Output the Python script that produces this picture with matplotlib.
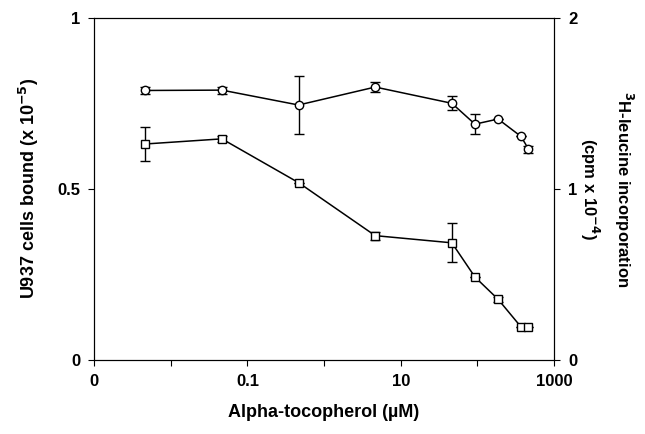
import numpy as np
import matplotlib
matplotlib.use('Agg')
from matplotlib import pyplot as plt

plt.rcParams['font.family'] = ['Liberation Sans', 'DejaVu Sans']
plt.rcParams['font.weight'] = 'bold'

# alpha-tocopherol concentrations (uM)
conc = [0.00464, 0.0464, 0.464, 4.64, 46.4, 92.9, 186, 371, 464]

# U937 cells bound (x 10^-5), left axis
bound = [0.631, 0.646, 0.518, 0.363, 0.342, 0.242, 0.177, 0.096, 0.097]
bound_err = [0.050, 0.008, 0.0, 0.012, 0.057, 0.0, 0.008, 0.0, 0.0]

# 3H-leucine incorporation (cpm x 10^-4), right axis
leucine = [1.575, 1.577, 1.49, 1.595, 1.50, 1.378, 1.408, 1.306, 1.232]
leucine_err = [0.02, 0.02, 0.17, 0.03, 0.04, 0.06, 0.0, 0.0, 0.02]

xticks = [0.001, 0.01, 0.1, 1, 10, 100, 1000]
xticklabels = ['0', '', '0.1', '', '10', '', '1000']

fig = plt.figure(figsize=(6.45, 4.34), dpi=100)
ax = fig.add_axes([0.146, 0.171, 0.713, 0.788])
ax2 = ax.twinx()

ax.errorbar(conc, bound, yerr=bound_err, color='black', lw=1.1,
            marker='s', ms=6, mfc='white', mec='black', mew=1.0,
            ecolor='black', elinewidth=1.0, capsize=3.5, capthick=1.0)
ax2.errorbar(conc, leucine, yerr=leucine_err, color='black', lw=1.1,
             marker='o', ms=6, mfc='white', mec='black', mew=1.0,
             ecolor='black', elinewidth=1.0, capsize=3.5, capthick=1.0)

ax.set_xscale('log')
ax.set_xlim(0.001, 1000)
ax.set_xticks(xticks)
ax.set_xticklabels(xticklabels)
ax.minorticks_off()
ax.set_ylim(0, 1)
ax.set_yticks([0, 0.5, 1])
ax.set_yticklabels(['0', '0.5', '1'])
ax2.set_ylim(0, 2)
ax2.set_yticks([0, 1, 2])
ax2.set_yticklabels(['0', '1', '2'])

for a in (ax, ax2):
    a.tick_params(direction='out', length=4, width=0.8, labelsize=12, pad=6)
    for s in a.spines.values():
        s.set_linewidth(0.8)

ax.set_xlabel('Alpha-tocopherol (\u00b5M)', fontsize=13, fontweight='bold', labelpad=11)
ax.set_ylabel('U937 cells bound (x 10$^{\\mathbf{-5}}$)', fontsize=13, fontweight='bold', labelpad=12)

# right-hand axis title, two lines reading top to bottom
fig.text(0.94, 0.565, '$^{\\mathbf{3}}$H-leucine incorporation\n(cpm x 10$^{\\mathbf{-4}}$)',
         fontsize=12, fontweight='bold', rotation=270, ha='center', va='center',
         linespacing=1.6, multialignment='center')

fig.savefig('out.png', dpi=100)
